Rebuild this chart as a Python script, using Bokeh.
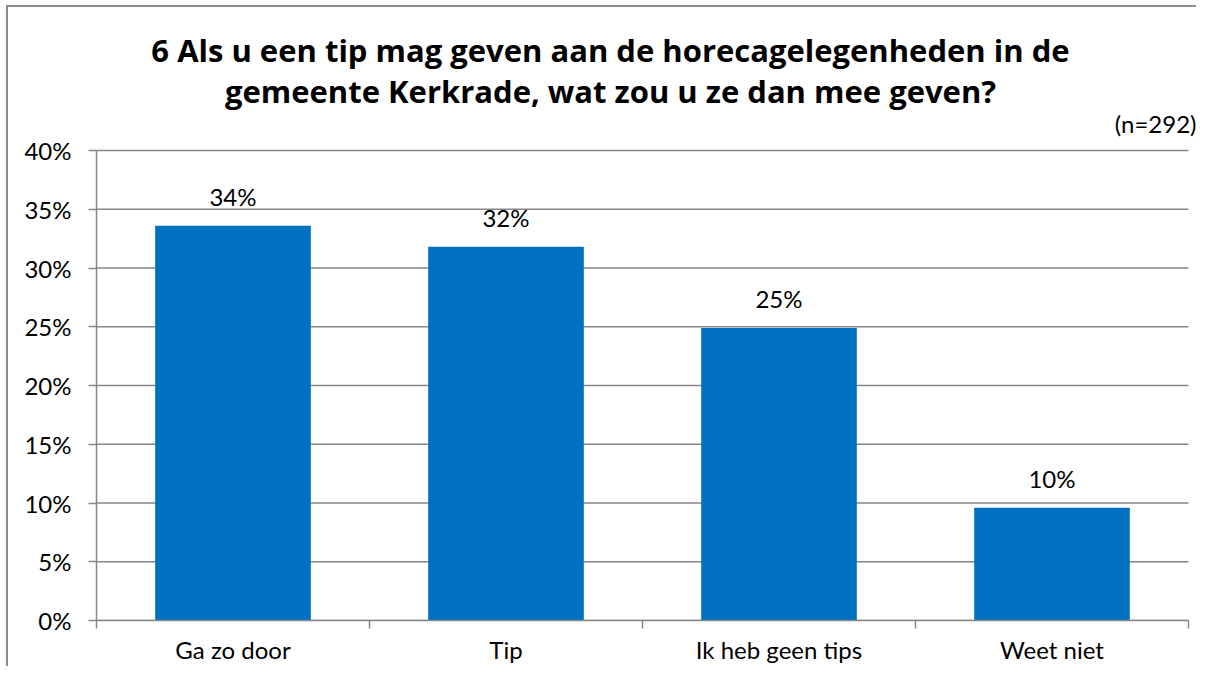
from bokeh.plotting import figure
from bokeh.models import (ColumnDataSource, FixedTicker, LabelSet, InlineStyleSheet,
                          NumeralTickFormatter, Range1d)
from bokeh.core.properties import value
from bokeh.embed import file_html
from bokeh.resources import INLINE

# ---- data ----
categories = ["Ga zo door", "Tip", "Ik heb geen tips", "Weet niet"]
values = [0.336, 0.318, 0.249, 0.096]
value_labels = ["34%", "32%", "25%", "10%"]
y_ticks = [0.0, 0.05, 0.10, 0.15, 0.20, 0.25, 0.30, 0.35, 0.40]
title_lines = ["6 Als u een tip mag geven aan de horecagelegenheden in de",
               "gemeente Kerkrade, wat zou u ze dan mee geven?"]
n_note = "(n=292)"

FONT = "Lato"
TITLE_FONT = "Open Sans"
GRAY = "#868686"
BLUE = "#0070C0"

# ---- layout (pixels) ----
W, H = 1196, 665
LEFT, AXIS_RIGHT, BOTTOM_PX = 96, 1188, 620   # plot-area edges
n_cat = len(categories)
px_per_cat = (AXIS_RIGHT - LEFT) / n_cat
y_max = y_ticks[-1]
px_per_unit = (BOTTOM_PX - 150) / y_max
x_end = -0.5 + (W - LEFT) / px_per_cat
y_top = BOTTOM_PX / px_per_unit

def px_to_x(px):
    return -0.5 + (px - LEFT) / px_per_cat

def px_to_y(py):
    return (BOTTOM_PX - py) / px_per_unit

xs = list(range(n_cat))
src = ColumnDataSource(dict(x=xs, top=values, lab=value_labels))

p = figure(width=W, height=H, output_backend="svg", toolbar_location=None,
           x_range=Range1d(-0.5, x_end), y_range=Range1d(0, y_top),
           frame_height=BOTTOM_PX,
           min_border_left=LEFT, min_border_right=0,
           min_border_top=0, min_border_bottom=H - BOTTOM_PX)
p.outline_line_color = None
p.background_fill_color = "white"
p.border_fill_color = "white"
p.xgrid.grid_line_color = None
p.ygrid.grid_line_color = None

# chart-area border: left and top edges only (the chart is cropped on the
# right and bottom), drawn over the canvas and clipped to the figure
p.stylesheets = [InlineStyleSheet(css=(
    ":host { position: relative; overflow: hidden; } "
    ":host::after { content: ''; position: absolute; left: 6px; top: 5px; "
    "right: -6px; bottom: -6px; border-left: 2px solid #8c8c8c; "
    "border-top: 2px solid #8c8c8c; pointer-events: none; }"))]

# horizontal gridlines limited to the category span
p.segment(x0=-0.5, x1=n_cat - 0.5, y0=y_ticks, y1=y_ticks,
          line_color=GRAY, line_width=1.5, level="underlay")

p.vbar(x="x", top="top", width=0.57, bottom=0, source=src,
       fill_color=BLUE, line_color=None)

# y axis
p.yaxis.bounds = (0, y_max)
p.yaxis.ticker = FixedTicker(ticks=y_ticks, minor_ticks=[])
p.yaxis.formatter = NumeralTickFormatter(format="0%")
p.yaxis.axis_line_color = GRAY
p.yaxis.axis_line_width = 1.5
p.yaxis.major_tick_line_color = GRAY
p.yaxis.major_tick_line_width = 1.5
p.yaxis.major_tick_in = 0
p.yaxis.major_tick_out = 8
p.yaxis.minor_tick_line_color = None
p.yaxis.major_label_text_font = FONT
p.yaxis.major_label_text_font_size = "24px"
p.yaxis.major_label_text_color = "black"
p.yaxis.major_label_standoff = 17

# x axis: labels at centers, tick marks at category boundaries
p.xaxis.bounds = (-0.5, n_cat - 0.5)
p.xaxis.ticker = FixedTicker(ticks=xs,
                             minor_ticks=[i - 0.5 for i in range(n_cat + 1)])
p.xaxis.major_label_overrides = {i: c for i, c in zip(xs, categories)}
p.xaxis.axis_line_color = GRAY
p.xaxis.axis_line_width = 1.5
p.xaxis.major_tick_line_color = None
p.xaxis.major_tick_in = 0
p.xaxis.major_tick_out = 0
p.xaxis.minor_tick_line_color = GRAY
p.xaxis.minor_tick_line_width = 1.5
p.xaxis.minor_tick_in = 0
p.xaxis.minor_tick_out = 8
p.xaxis.major_label_text_font = FONT
p.xaxis.major_label_text_font_size = "24px"
p.xaxis.major_label_text_color = "black"
p.xaxis.major_label_standoff = 6

# value labels
p.add_layout(LabelSet(x="x", y="top", text="lab", source=src, y_offset=20,
                      text_align="center", text_baseline="alphabetic",
                      text_font=value(FONT), text_font_size="24px",
                      text_color="black"))

# title lines and sample-size note
tx = px_to_x(610)
title_src = ColumnDataSource(dict(x=[tx, tx], y=[px_to_y(61), px_to_y(102)],
                                  t=title_lines))
p.add_layout(LabelSet(x="x", y="y", text="t", source=title_src,
                      text_align="center", text_baseline="alphabetic",
                      text_font=value(TITLE_FONT), text_font_size="31px",
                      text_font_style="bold", text_color="black"))
note_src = ColumnDataSource(dict(x=[px_to_x(1196)], y=[px_to_y(132)], t=[n_note]))
p.add_layout(LabelSet(x="x", y="y", text="t", source=note_src,
                      text_align="right", text_baseline="alphabetic",
                      text_font=value(FONT), text_font_size="24px",
                      text_color="black"))

open("out.html", "w").write(file_html(p, INLINE))
